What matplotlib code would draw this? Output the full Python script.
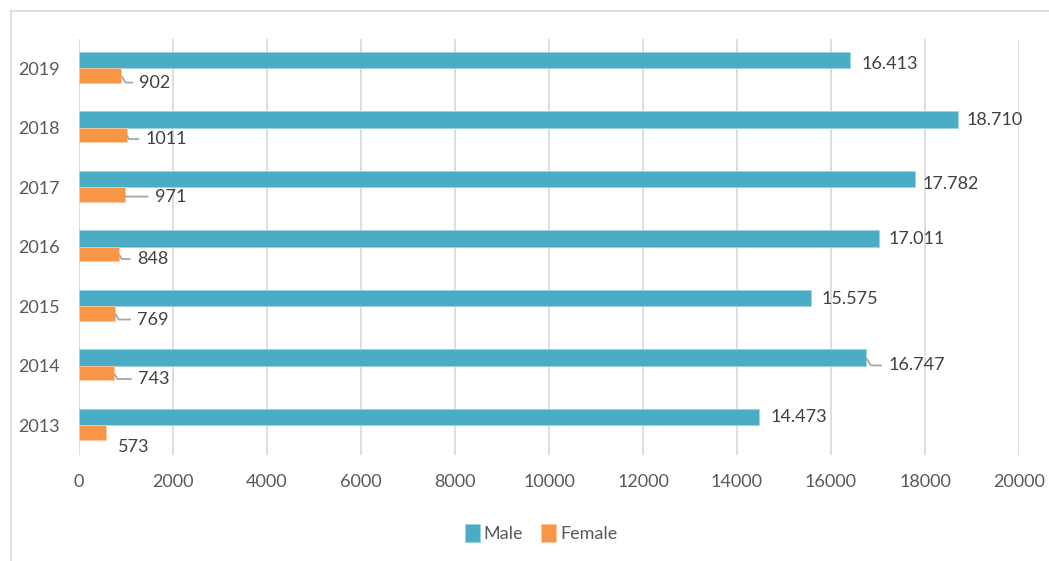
"""Horizontal grouped bar chart: Male vs Female counts per year, 2013-2019."""

import matplotlib

matplotlib.use("Agg")

import matplotlib.pyplot as plt  # noqa: E402
from matplotlib.lines import Line2D  # noqa: E402
import numpy as np  # noqa: E402

# data (bottom to top)
years = ["2013", "2014", "2015", "2016", "2017", "2018", "2019"]
male = [14473, 16747, 15575, 17011, 17782, 18710, 16413]
female = [573, 743, 769, 848, 971, 1011, 902]
x_ticks = [0, 2000, 4000, 6000, 8000, 10000, 12000, 14000, 16000, 18000, 20000]

MALE_C = "#4BACC6"
FEMALE_C = "#F79646"
TICK_C = "#595959"
LABEL_C = "#404040"
GRID_C = "#D9D9D9"
LEADER_C = "#A6A6A6"
FS = 13

plt.rcParams["font.family"] = ["Lato", "DejaVu Sans"]

W, H = 1049, 561
fig = plt.figure(figsize=(W / 100, H / 100), dpi=100)
ax = fig.add_axes([79 / W, 1 - 455 / H, (1019 - 79) / W, (455 - 38.5) / H])

y = np.arange(len(years))
h_m, h_f = 0.28, 0.245
ax.barh(y + h_m / 2, male, height=h_m, color=MALE_C, edgecolor="#9ED3E1",
        linewidth=0.6, label="Male", zorder=2)
ax.barh(y - h_f / 2, female, height=h_f, color=FEMALE_C, edgecolor="#FBC8A0",
        linewidth=0.6, label="Female", zorder=2)

# label offsets in pixels (dx, dy) from the bar end, plus leader flags
male_off = [(11, 0), (22, -8), (10, -1), (10, -1), (8, -5), (8, -1), (11, -4)]
male_leader = [False, True, False, False, False, False, False]
fem_off = [(12, -14), (24, -6), (22, -6), (18, -5), (30, -2), (19, -4), (18, -7)]
fem_leader = [False, True, True, True, True, True, True]


def put_label(xv, yv, text, off, leader):
    kw = {}
    if leader:
        kw["arrowprops"] = dict(arrowstyle="-", color=LEADER_C, lw=1.3,
                                shrinkA=3, shrinkB=1, relpos=(0, 0.5),
                                connectionstyle="angle,angleA=0,angleB=-60,rad=0")
    ax.annotate(text, xy=(xv, yv), xytext=off, textcoords="offset pixels",
                ha="left", va="center", fontsize=FS, color=LABEL_C, **kw)


for i in range(len(years)):
    put_label(male[i], y[i] + h_m / 2, f"{male[i]:,}".replace(",", "."),
              male_off[i], male_leader[i])
    put_label(female[i], y[i] - h_f / 2, str(female[i]), fem_off[i], fem_leader[i])

ax.set_xlim(0, 20000)
ax.set_ylim(-0.5, len(years) - 0.5)
ax.set_xticks(x_ticks)
ax.set_yticks(y)
ax.set_yticklabels(years)
ax.grid(axis="x", color=GRID_C, linewidth=1.2, zorder=0)
ax.set_axisbelow(True)
for s in ax.spines.values():
    s.set_visible(False)
ax.tick_params(axis="both", length=0, labelsize=FS, labelcolor=TICK_C)
ax.tick_params(axis="x", pad=14)
ax.tick_params(axis="y", pad=14)

fig.legend(loc="center", bbox_to_anchor=(541 / W, 1 - 533 / H), ncol=2,
           frameon=False, fontsize=FS, labelcolor=TICK_C, handlelength=0.85,
           handleheight=1.15, handletextpad=0.2, columnspacing=1.0)

# chart-area border (top and left edges visible)
fig.add_artist(Line2D([11 / W, 1], [1 - 11 / H, 1 - 11 / H], color=GRID_C, lw=1.2))
fig.add_artist(Line2D([11 / W, 11 / W], [0, 1 - 11 / H], color=GRID_C, lw=1.2))

fig.savefig("out.png", dpi=100)
